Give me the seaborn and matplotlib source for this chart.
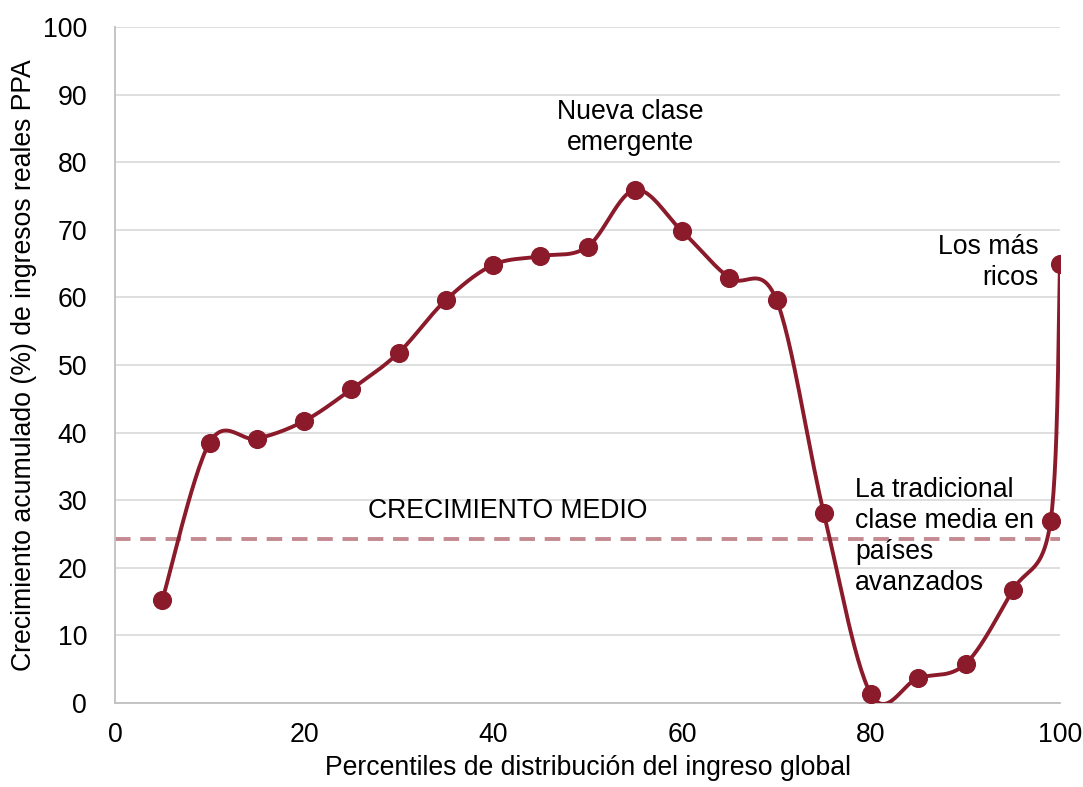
import numpy as np
import pandas as pd
import matplotlib
matplotlib.use('Agg')
import matplotlib.pyplot as plt
import seaborn as sns

# ---- data ----
percentil = [5, 10, 15, 20, 25, 30, 35, 40, 45, 50, 55, 60, 65, 70, 75, 80, 85, 90, 95, 99, 100]
crecimiento = [15.2, 38.5, 39.1, 41.7, 46.4, 51.8, 59.6, 64.8, 66.1, 67.5, 75.9, 69.8, 62.9, 59.6,
               28.1, 1.3, 3.7, 5.8, 16.7, 26.9, 64.9]
crecimiento_medio = 24.3

rojo = '#8B1A2B'

sns.set_theme(style='white')
plt.rcParams['font.family'] = ['Liberation Sans', 'DejaVu Sans']
plt.rcParams['text.color'] = 'black'
plt.rcParams['axes.labelcolor'] = 'black'


# ---- suavizado tipo Excel (Catmull-Rom / Bezier) ----
def suavizar(x, y, n=30):
    x = np.asarray(x, float)
    y = np.asarray(y, float)
    px = np.concatenate([[x[0]], x, [x[-1]]])
    py = np.concatenate([[y[0]], y, [y[-1]]])
    xs, ys = [], []
    t = np.linspace(0, 1, n)
    for i in range(1, len(px) - 2):
        p0 = np.array([px[i], py[i]])
        p3 = np.array([px[i + 1], py[i + 1]])
        c1 = p0 + (p3 - np.array([px[i - 1], py[i - 1]])) / 6
        c2 = p3 - (np.array([px[i + 2], py[i + 2]]) - p0) / 6
        b = ((1 - t) ** 3)[:, None] * p0 + (3 * (1 - t) ** 2 * t)[:, None] * c1 \
            + (3 * (1 - t) * t ** 2)[:, None] * c2 + (t ** 3)[:, None] * p3
        xs.extend(b[:, 0])
        ys.extend(b[:, 1])
    return pd.DataFrame({'x': xs, 'y': ys})


curva = suavizar(percentil, crecimiento)
puntos = pd.DataFrame({'x': percentil, 'y': crecimiento})

fs = 19.2

fig = plt.figure(figsize=(10.83, 7.87), dpi=100)
ax = fig.add_axes([0.1062, 0.1067, 0.8726, 0.859])

ax.grid(axis='y', color='#d9d9d9', linewidth=1.2)
ax.set_axisbelow(True)

ax.axhline(crecimiento_medio, color='#c48a91', linewidth=2.8, linestyle=(0, (4, 2.5)), zorder=2)
sns.lineplot(data=curva, x='x', y='y', sort=False, color=rojo, linewidth=2.8, ax=ax, zorder=3)
sns.scatterplot(data=puntos, x='x', y='y', color=rojo, s=190, edgecolor=rojo, linewidth=0, ax=ax, zorder=4)

ax.set_xlim(0, 100)
ax.set_ylim(0, 100)
ax.set_xticks(range(0, 101, 20))
ax.set_yticks(range(0, 101, 10))
ax.tick_params(axis='both', length=0, labelsize=fs, labelcolor='black')
ax.tick_params(axis='x', pad=14)
ax.tick_params(axis='y', pad=20)

for s in ['top', 'right']:
    ax.spines[s].set_visible(False)
for s in ['left', 'bottom']:
    ax.spines[s].set_color('#bfbfbf')
    ax.spines[s].set_linewidth(1.3)

ax.set_xlabel('Percentiles de distribución del ingreso global', fontsize=fs, labelpad=5)
ax.set_ylabel('Crecimiento acumulado (%) de ingresos reales PPA', fontsize=fs, labelpad=4)

ax.text(54.5, 85.2, 'Nueva clase\nemergente', ha='center', va='center', fontsize=fs, linespacing=1.25)
ax.text(97.7, 65.1, 'Los más\nricos', ha='right', va='center', fontsize=fs, linespacing=1.25)
ax.text(41.5, 28.4, 'CRECIMIENTO MEDIO', ha='center', va='center', fontsize=fs)
ax.text(78.3, 24.6, 'La tradicional\nclase media en\npaíses\navanzados', ha='left', va='center',
        fontsize=fs, linespacing=1.25)

fig.savefig('out.png', dpi=100)
